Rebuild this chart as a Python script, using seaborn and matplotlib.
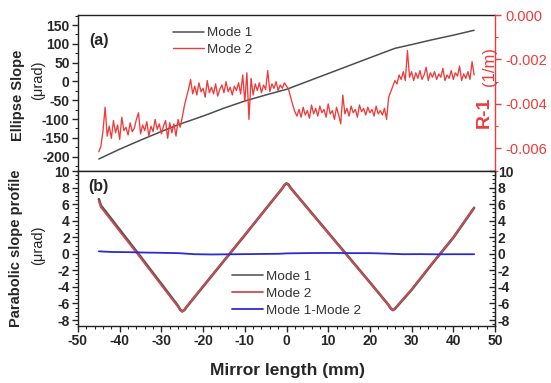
import numpy as np
import matplotlib.pyplot as plt
from matplotlib.lines import Line2D
from matplotlib.ticker import MultipleLocator, FormatStrFormatter
import seaborn as sns

sns.set_style("ticks")
plt.rcParams['font.family'] = ['Liberation Sans', 'DejaVu Sans']
plt.rcParams['axes.unicode_minus'] = False

# --- (a) ellipse slope, Mode 1 (urad, left axis) ---
ell_x = [-45, -40, -35, -30, -26, -20, -15, -10, -5, 0, 5, 10, 15, 20, 26, 30, 35, 40, 45]
ell_mode1 = [-206, -180, -156, -133, -115, -92, -71, -52, -36, -21, 0, 21, 42, 63, 88, 98, 111, 123, 136]

# --- (a) Mode 2 as curvature R-1, in 1e-3 (1/m), 0.5 mm steps from -45 to 45 ---
curv_x = np.linspace(-45, 45, 181)
curv_mode2 = [
    -6.15, -5.90, -5.20, -4.15, -5.45, -5.00, -5.55, -4.75, -5.30, -4.95,
    -5.60, -4.60, -5.20, -5.05, -5.40, -4.85, -5.25, -5.10, -4.70, -4.40,
    -5.35, -4.95, -5.20, -4.80, -5.45, -5.00, -5.25, -4.70, -5.15, -4.90,
    -5.35, -5.00, -4.75, -5.55, -4.85, -5.30, -4.90, -5.45, -4.70, -5.05,
    -4.60, -4.10, -3.70, -3.35, -2.90, -3.55, -3.20, -3.60, -3.05, -3.45,
    -3.30, -3.70, -2.95, -3.50, -3.25, -3.55, -3.10, -3.65, -3.35, -3.15,
    -3.50, -3.00, -3.45, -3.25, -3.60, -3.20, -3.40, -3.05, -3.55, -2.70,
    -3.90, -2.60, -4.70, -2.85, -3.60, -3.10, -3.40, -3.05, -3.50, -3.15,
    -3.35, -2.50, -3.45, -3.10, -3.30, -3.00, -3.40, -3.15, -3.30, -3.05,
    -3.20, -3.35, -3.70, -4.05, -4.35, -4.55, -4.25, -4.60, -4.15, -4.50,
    -4.30, -4.65, -4.05, -4.45, -4.20, -4.55, -4.10, -4.40, -4.25, -4.60,
    -4.00, -4.45, -4.30, -4.70, -4.15, -4.50, -4.90, -3.60, -4.45, -4.20,
    -4.55, -4.10, -4.40, -4.25, -4.60, -4.05, -4.35, -4.20, -4.50, -4.15,
    -4.40, -4.25, -4.55, -4.10, -4.45, -4.30, -4.50, -4.20, -4.70, -3.70,
    -3.45, -3.20, -2.95, -3.10, -2.70, -2.90, -2.55, -2.95, -1.60, -2.80,
    -2.55, -2.95, -2.60, -2.85, -2.50, -2.90, -2.70, -2.35, -2.95, -2.60,
    -2.80, -2.55, -2.90, -2.65, -2.80, -2.40, -2.95, -2.70, -2.85, -2.50,
    -2.90, -2.60, -2.75, -2.30, -2.95, -2.65, -2.85, -2.55, -2.90, -2.10,
    -2.70,
]

# --- (b) parabolic slope profile (urad) ---
par_x = [-45, -44.5, -44, -40, -35, -30, -26, -25.5, -25, -24.5, -24, -20, -15, -10, -5, -1, -0.5,
         0, 0.5, 1, 5, 10, 15, 20, 24.5, 25, 25.5, 26, 26.5, 30, 35, 40, 45]
par_mode1 = [6.6, 5.8, 5.5, 2.9, -0.35, -3.65, -6.3, -6.75, -6.95, -6.8, -6.45, -3.95, -0.85, 2.25, 5.4,
             7.9, 8.3, 8.5, 8.35, 7.95, 5.55, 2.55, -0.45, -3.45, -6.2, -6.6, -6.8, -6.65, -6.35, -4.35,
             -1.15, 1.95, 5.55]
par_mode2 = [6.4, 5.6, 5.3, 2.7, -0.5, -3.8, -6.4, -6.8, -7.0, -6.8, -6.4, -3.9, -0.8, 2.3, 5.4,
             7.9, 8.3, 8.5, 8.3, 7.9, 5.5, 2.5, -0.5, -3.5, -6.2, -6.6, -6.8, -6.6, -6.3, -4.3,
             -1.1, 2.0, 5.6]
diff_x = [-45, -42, -38, -34, -30, -26, -22, -18, -14, -10, -6, -2, 0, 4, 8, 12, 16, 20, 24, 28, 32, 36, 40, 45]
diff_y = [0.30, 0.22, 0.20, 0.15, 0.12, 0.08, -0.05, -0.08, -0.06, -0.04, -0.02, 0.0, 0.05, 0.08,
          0.10, 0.10, 0.08, 0.08, 0.02, -0.05, -0.04, -0.06, -0.05, -0.05]

RED = '#ee3b3b'
GREY = '#4d4d4d'
BLUE = '#2b2bd0'
W, H = 551, 383


def fx(px):
    return px / W


def fy(py):
    return 1 - py / H


fig = plt.figure(figsize=(5.51, 3.83), dpi=100)
ax1 = fig.add_axes([fx(78), fy(171), fx(495) - fx(78), fy(15) - fy(171)])
ax2 = fig.add_axes([fx(78), fy(326), fx(495) - fx(78), fy(171) - fy(326)])
ax1r = ax1.twinx()
ax2r = ax2.twinx()

# panel (a)
sns.lineplot(x=ell_x, y=ell_mode1, ax=ax1, color=GREY, lw=1.1, legend=False)
sns.lineplot(x=curv_x, y=np.array(curv_mode2) * 1e-3, ax=ax1r, color=RED, lw=0.95, legend=False)

# panel (b)
sns.lineplot(x=par_x, y=par_mode1, ax=ax2, color='#555555', lw=1.9, legend=False)
sns.lineplot(x=par_x, y=par_mode2, ax=ax2, color='#d24a4c', lw=1.25, legend=False)
sns.lineplot(x=diff_x, y=diff_y, ax=ax2, color=BLUE, lw=1.3, legend=False)

for ax in (ax1, ax2):
    ax.set_xlim(-50, 50)
    ax.xaxis.set_major_locator(MultipleLocator(10))
    ax.xaxis.set_minor_locator(MultipleLocator(2))
    ax.set_xlabel('')
    ax.set_ylabel('')
    for s in ax.spines.values():
        s.set_linewidth(1.0)
        s.set_color('#222222')

ax1.set_ylim(-238, 176.6)
ax1.yaxis.set_major_locator(MultipleLocator(50))
ax1.yaxis.set_minor_locator(MultipleLocator(25))
ax1r.set_ylim(-0.00702, 0)
ax1r.yaxis.set_major_locator(MultipleLocator(0.002))
ax1r.yaxis.set_minor_locator(MultipleLocator(0.001))
ax1r.yaxis.set_major_formatter(FormatStrFormatter('%.3f'))

ax2.set_ylim(-8.72, 10)
ax2r.set_ylim(-8.72, 10)
for ax in (ax2, ax2r):
    ax.yaxis.set_major_locator(MultipleLocator(2))
    ax.yaxis.set_minor_locator(MultipleLocator(0.5))

# ticks
ax1.tick_params(axis='x', which='both', direction='out', bottom=True, top=False, labelbottom=False)
ax1.tick_params(axis='y', which='both', direction='out', left=True, right=False)
ax1r.tick_params(axis='x', which='major', direction='in', top=True, bottom=False, labeltop=False,
                 labelbottom=False, length=4)
ax1r.tick_params(axis='x', which='minor', top=False, bottom=False)
ax1r.tick_params(axis='y', which='both', direction='out', colors=RED, labelsize=10.5)
ax1.spines['right'].set_visible(False)
ax1r.spines['right'].set_color(RED)
ax1r.spines['right'].set_linewidth(1.0)
for side in ('left', 'top', 'bottom'):
    ax1r.spines[side].set_visible(False)

ax2.tick_params(axis='x', which='both', direction='out', bottom=True, top=False)
ax2.tick_params(axis='y', which='both', direction='out', left=True, right=False)
ax2r.tick_params(axis='y', which='both', direction='in', right=True, labelright=True)
ax2r.tick_params(axis='x', which='both', top=False, bottom=False, labeltop=False, labelbottom=False)
for side in ('left', 'top', 'bottom'):
    ax2r.spines[side].set_visible(False)
ax2r.spines['right'].set_color('#222222')

for ax in (ax1, ax2, ax2r, ax1r):
    ax.tick_params(which='major', length=4, width=1.0)
    ax.tick_params(which='minor', length=2.5, width=0.8)

for lab in ax1.get_yticklabels() + ax2.get_yticklabels() + ax2r.get_yticklabels() + ax2.get_xticklabels():
    lab.set_fontweight('bold')
    lab.set_fontsize(10)
for ax in (ax1, ax2, ax2r):
    ax.tick_params(labelsize=10, pad=2)

# legends
leg_kw = dict(loc='center left', bbox_transform=fig.transFigure, frameon=False, borderpad=0,
              borderaxespad=0, handlelength=2.3, handletextpad=0.25, fontsize=9.7)
leg1 = ax1r.legend([Line2D([], [], color=GREY, lw=1.1), Line2D([], [], color=RED, lw=1.0)],
                   ['Mode 1', 'Mode 2'], bbox_to_anchor=(fx(173), fy(41.5)),
                   labelspacing=0.3, **leg_kw)
leg2 = ax2.legend([Line2D([], [], color='#666666', lw=1.3), Line2D([], [], color='#d24a4c', lw=1.3),
                   Line2D([], [], color=BLUE, lw=1.3)],
                  ['Mode 1', 'Mode 2', 'Mode 1-Mode 2'], bbox_to_anchor=(fx(232), fy(293.5)),
                  labelspacing=0.33, **leg_kw)
for leg in (leg1, leg2):
    for t in leg.get_texts():
        t.set_color('#333333')

# labels
fig.text(fx(18), fy(95), 'Ellipse Slope', rotation=90, ha='center', va='center',
         fontweight='bold', fontsize=10.5)
fig.text(fx(38), fy(80), '(μrad)', rotation=90, ha='center', va='center', fontsize=10.5)
fig.text(fx(16), fy(248), 'Parabolic slope profile', rotation=90, ha='center', va='center',
         fontweight='bold', fontsize=10.5)
fig.text(fx(38), fy(245), '(μrad)', rotation=90, ha='center', va='center', fontsize=10.5)
fig.text(fx(484), fy(112), 'R-1', rotation=90, ha='center', va='center', color=RED,
         fontweight='bold', fontsize=14)
fig.text(fx(489), fy(66), '(1/m)', rotation=90, ha='center', va='center', color=RED, fontsize=12)
fig.text(fx(288), fy(370), 'Mirror length (mm)', ha='center', va='center',
         fontweight='bold', fontsize=12.5)
fig.text(fx(99), fy(40), '(a)', ha='center', va='center', fontweight='bold', fontsize=11.5)
fig.text(fx(98), fy(187), '(b)', ha='center', va='center', fontweight='bold', fontsize=11.5)

fig.savefig('out.png', dpi=100)
